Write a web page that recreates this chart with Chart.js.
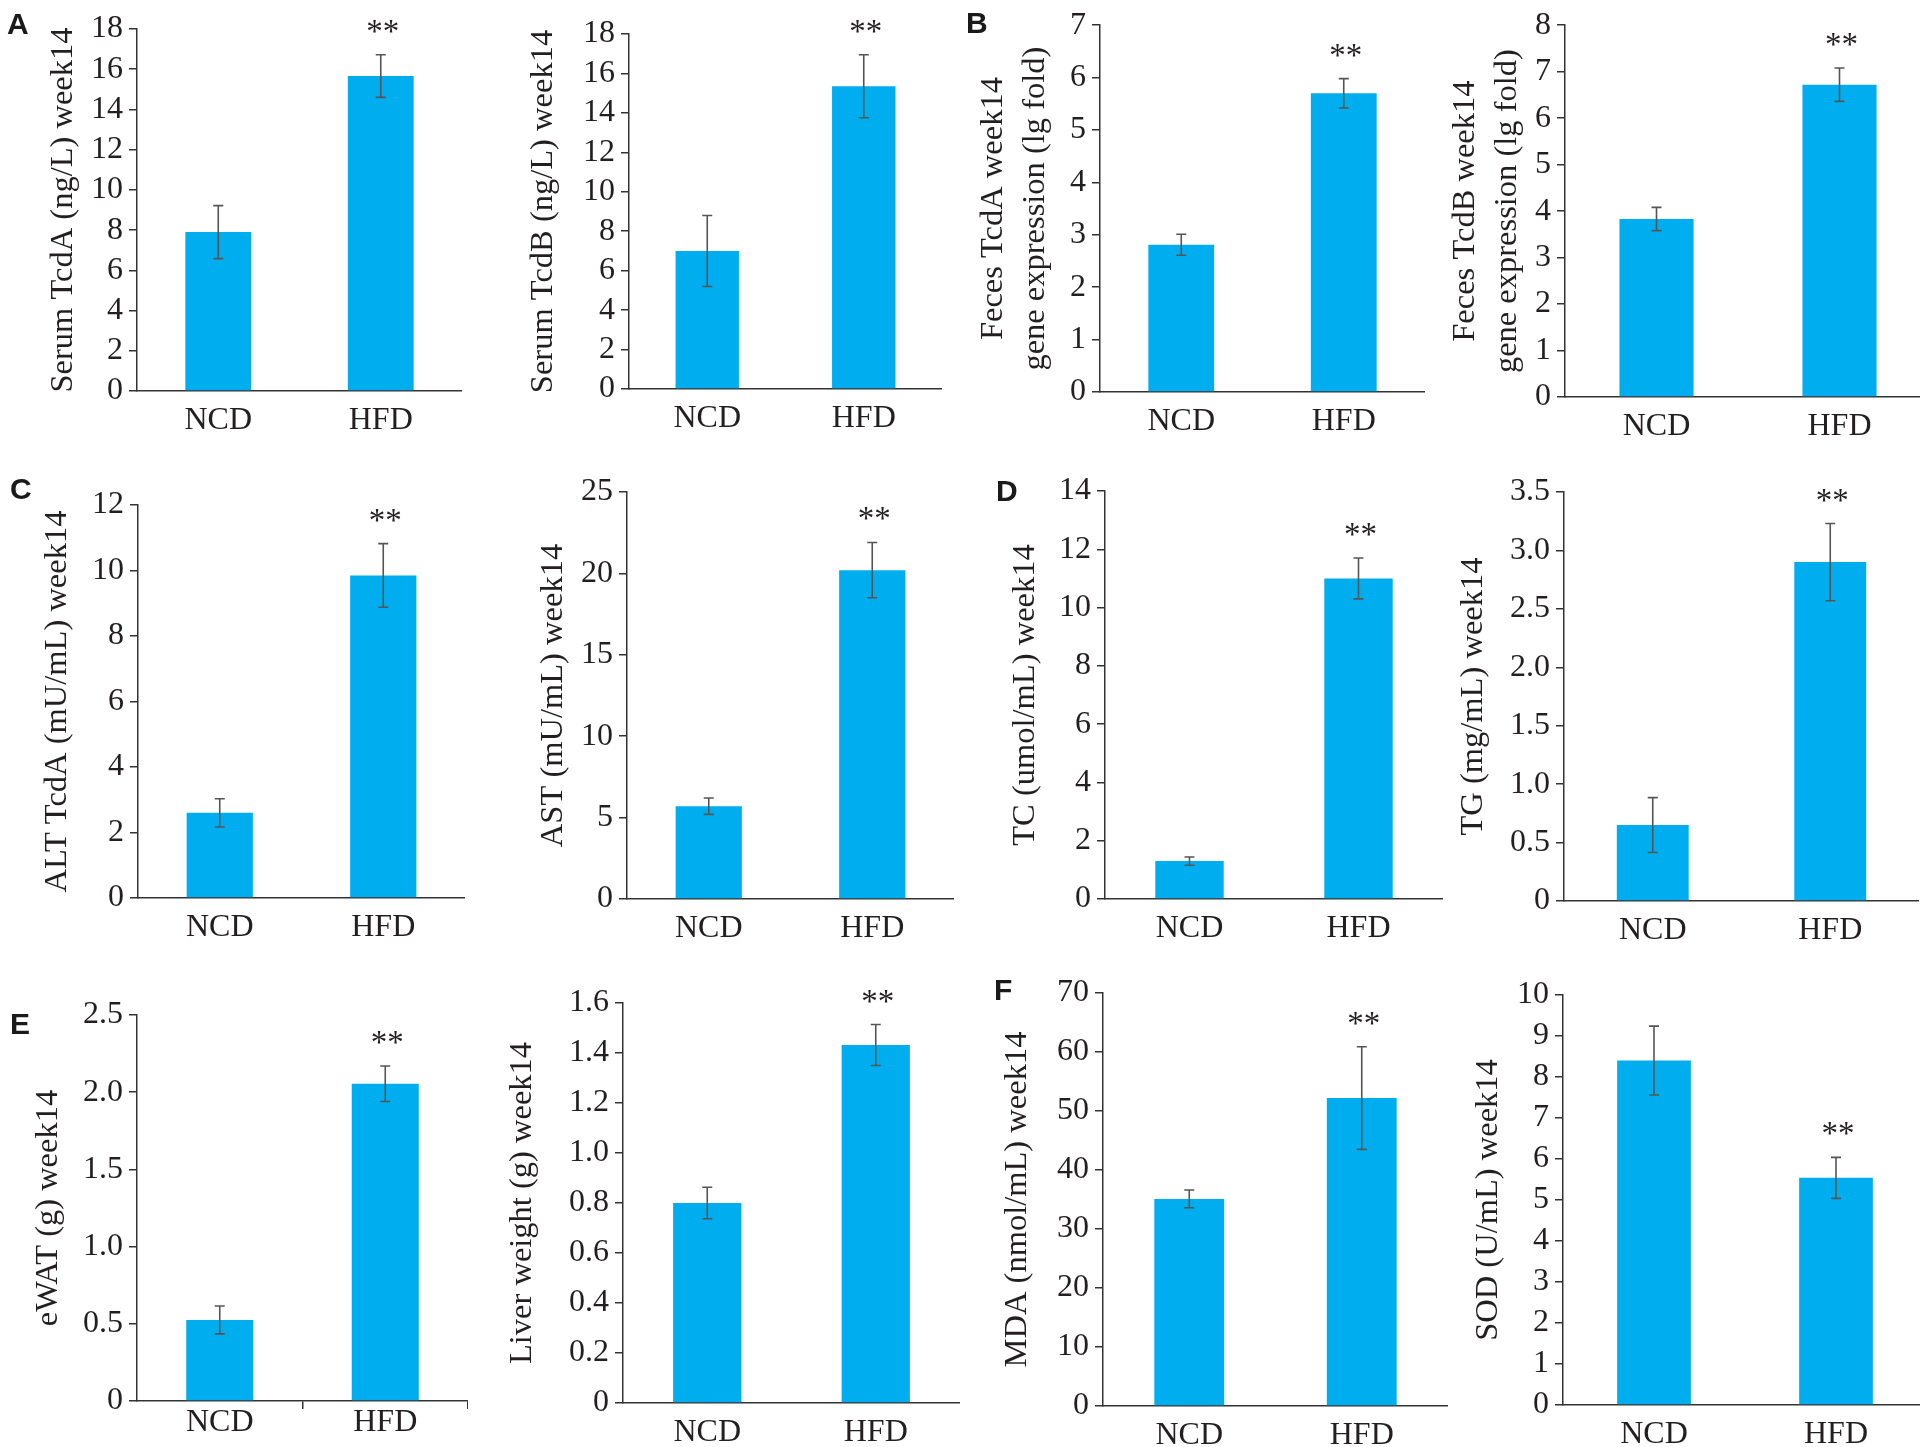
<!DOCTYPE html>
<html>
<head>
<meta charset="utf-8">
<script src="https://cdn.jsdelivr.net/npm/chart.js@4.4.0/dist/chart.umd.min.js"></script>
<style>
html, body { margin:0; padding:0; background:#fff; overflow:hidden; width:1920px; height:1447px; }
canvas { position:absolute; }
</style>
</head>
<body>
<script>
var groups = ['NCD', 'HFD'];

// means and error bars
var serumTcdA = [7.9, 15.66],  serumTcdAErr = [1.32, 1.06];
var serumTcdB = [7.0, 15.35],  serumTcdBErr = [1.8, 1.6];
var fecesTcdA = [2.81, 5.7],   fecesTcdAErr = [0.2, 0.28];
var fecesTcdB = [3.83, 6.72],  fecesTcdBErr = [0.25, 0.36];
var alt       = [2.6, 9.85],   altErr       = [0.43, 0.97];
var ast       = [5.7, 20.2],   astErr       = [0.5, 1.7];
var tc        = [1.3, 11.0],   tcErr        = [0.14, 0.7];
var tg        = [0.65, 2.9],   tgErr        = [0.235, 0.33];
var ewat      = [0.525, 2.055],ewatErr      = [0.09, 0.115];
var liver     = [0.8, 1.432],  liverErr     = [0.063, 0.082];
var mda       = [35.1, 52.2],  mdaErr       = [1.5, 8.7];
var sod       = [8.4, 5.54],   sodErr       = [0.84, 0.5];
var signif    = ['', '**'];

var means = [serumTcdA, serumTcdB, fecesTcdA, fecesTcdB, alt, ast, tc, tg, ewat, liver, mda, sod];
var errs  = [serumTcdAErr, serumTcdBErr, fecesTcdAErr, fecesTcdBErr, altErr, astErr, tcErr, tgErr, ewatErr, liverErr, mdaErr, sodErr];

// y tick labels: max, step, decimals
var tickMax  = [18, 18, 7, 8, 12, 25, 14, 3.5, 2.5, 1.6, 70, 10];
var tickStep = [2, 2, 1, 1, 2, 5, 2, 0.5, 0.5, 0.2, 10, 1];
var tickDec  = [0, 0, 0, 0, 0, 0, 0, 1, 1, 1, 0, 0];

var titles = [
  'Serum TcdA (ng/L) week14',
  'Serum TcdB (ng/L) week14',
  ['Feces TcdA week14', 'gene expression (lg fold)'],
  ['Feces TcdB week14', 'gene expression (lg fold)'],
  'ALT TcdA (mU/mL) week14',
  'AST (mU/mL) week14',
  'TC (umol/mL) week14',
  'TG (mg/mL) week14',
  'eWAT (g) week14',
  'Liver weight (g) week14',
  'MDA (nmol/mL) week14',
  'SOD (U/mL) week14'
];
var letters = ['A', '', 'B', '', 'C', '', 'D', '', 'E', '', 'F', ''];

// page layout, pixels: canvas left/top/height, y axis x, x axis end, top tick y, zero y, title x
var boxes = [
  [0,    0,   450, 137,  462,  29,   391,  63],
  [470,  0,   450, 629,  942,  34,   389,  543],
  [950,  0,   450, 1100, 1425, 24,   392,  993],
  [1430, 0,   450, 1565, 1931, 19,   397,  1465],
  [0,    455, 500, 138,  465,  505,  898,  57],
  [470,  455, 500, 627,  954,  492,  899,  553],
  [950,  455, 500, 1105, 1443, 491,  899,  1025],
  [1430, 455, 500, 1564, 1919, 492,  901,  1473],
  [0,    955, 492, 137,  468,  1015, 1401, 48],
  [470,  955, 492, 623,  960,  1003, 1403, 522],
  [950,  955, 492, 1103, 1448, 993,  1406, 1017],
  [1430, 955, 492, 1563, 1927, 995,  1405, 1488]
];
var letterPos = [[7, 34], null, [966, 33], null, [10, 499], null, [996, 501], null, [10, 1034], null, [994, 1000], null];

var ink = '#231f20';
var axisCol = '#333333';
var serif = '"Liberation Serif", "Times New Roman", serif';

function makeDecor(i, b) {
  return {
    id: 'decor' + i,
    afterDatasetsDraw: function(chart) {
      var ctx = chart.ctx;
      var ys = chart.scales.y;
      var meta = chart.getDatasetMeta(0);
      ctx.save();
      means[i].forEach(function(v, k) {
        var bx = meta.data[k].x;
        var yt = ys.getPixelForValue(v + errs[i][k]);
        var yb = ys.getPixelForValue(v - errs[i][k]);
        ctx.strokeStyle = '#555555';
        ctx.lineWidth = 1.6;
        ctx.beginPath();
        ctx.moveTo(bx, yt); ctx.lineTo(bx, yb);
        ctx.moveTo(bx - 5, yt); ctx.lineTo(bx + 5, yt);
        ctx.moveTo(bx - 5, yb); ctx.lineTo(bx + 5, yb);
        ctx.stroke();
        if (signif[k]) {
          ctx.fillStyle = ink;
          ctx.font = '33px ' + serif;
          ctx.textAlign = 'center';
          ctx.textBaseline = 'alphabetic';
          ctx.fillText(signif[k], bx + 2, yt - 28 + 15);
        }
      });
      if (letters[i]) {
        ctx.fillStyle = '#1a1a1a';
        ctx.font = 'bold 30px "Liberation Sans", Arial, sans-serif';
        ctx.textAlign = 'left';
        ctx.textBaseline = 'alphabetic';
        ctx.fillText(letters[i], letterPos[i][0] - b[0], letterPos[i][1] - b[1]);
      }
      ctx.restore();
    }
  };
}

boxes.forEach(function(b, i) {
  var cx = b[0], cy = b[1], ch = b[2], ax = b[3], ar = b[4], ty = b[5], zy = b[6], tx = b[7];
  var cv = document.createElement('canvas');
  cv.width = ar - cx;
  cv.height = ch;
  cv.style.left = cx + 'px';
  cv.style.top = cy + 'px';
  document.body.appendChild(cv);

  var titleSize = 32.5, titleLH = 1.32;
  var yWidth = ax - cx;
  var xHeight = cy + ch - zy;
  var ticked = (i === 8); // eWAT panel has category ticks on the x axis

  new Chart(cv.getContext('2d'), {
    type: 'bar',
    data: {
      labels: groups,
      datasets: [{
        data: means[i],
        backgroundColor: '#00aeef',
        borderWidth: 0,
        barPercentage: 0.405,
        categoryPercentage: 1
      }]
    },
    options: {
      responsive: false,
      animation: false,
      devicePixelRatio: 1,
      layout: { padding: { top: ty - cy, left: 0, right: 0, bottom: 0 } },
      plugins: { legend: { display: false }, tooltip: { enabled: false } },
      scales: {
        x: {
          offset: true,
          grid: ticked ? {
            display: true, offset: true, drawOnChartArea: false, drawTicks: true,
            tickLength: 8, lineWidth: 1.5,
            color: function(c) { return c.index === 0 ? 'rgba(0,0,0,0)' : axisCol; }
          } : { display: false },
          border: { display: true, color: axisCol, width: 1.5 },
          ticks: { color: ink, font: { family: serif, size: 32 }, padding: ticked ? -6 : 2, maxRotation: 0, autoSkip: false },
          afterFit: function(s) { s.height = xHeight; }
        },
        y: {
          min: 0,
          max: tickMax[i],
          grid: { display: true, drawOnChartArea: false, drawTicks: true, tickLength: 8, color: axisCol, lineWidth: 1.5 },
          border: { display: true, color: axisCol, width: 1.5 },
          ticks: {
            stepSize: tickStep[i],
            autoSkip: false,
            color: ink,
            padding: 6,
            font: { family: serif, size: 32 },
            callback: function(v) { return v === 0 ? '0' : Number(v).toFixed(tickDec[i]); }
          },
          title: {
            display: true,
            text: titles[i],
            color: ink,
            font: { family: serif, size: titleSize, lineHeight: titleLH },
            padding: { top: tx - cx - titleSize * titleLH / 2, bottom: 0 }
          },
          afterFit: function(s) { s.width = yWidth; }
        }
      }
    },
    plugins: [makeDecor(i, b)]
  });
});
</script>
</body>
</html>
